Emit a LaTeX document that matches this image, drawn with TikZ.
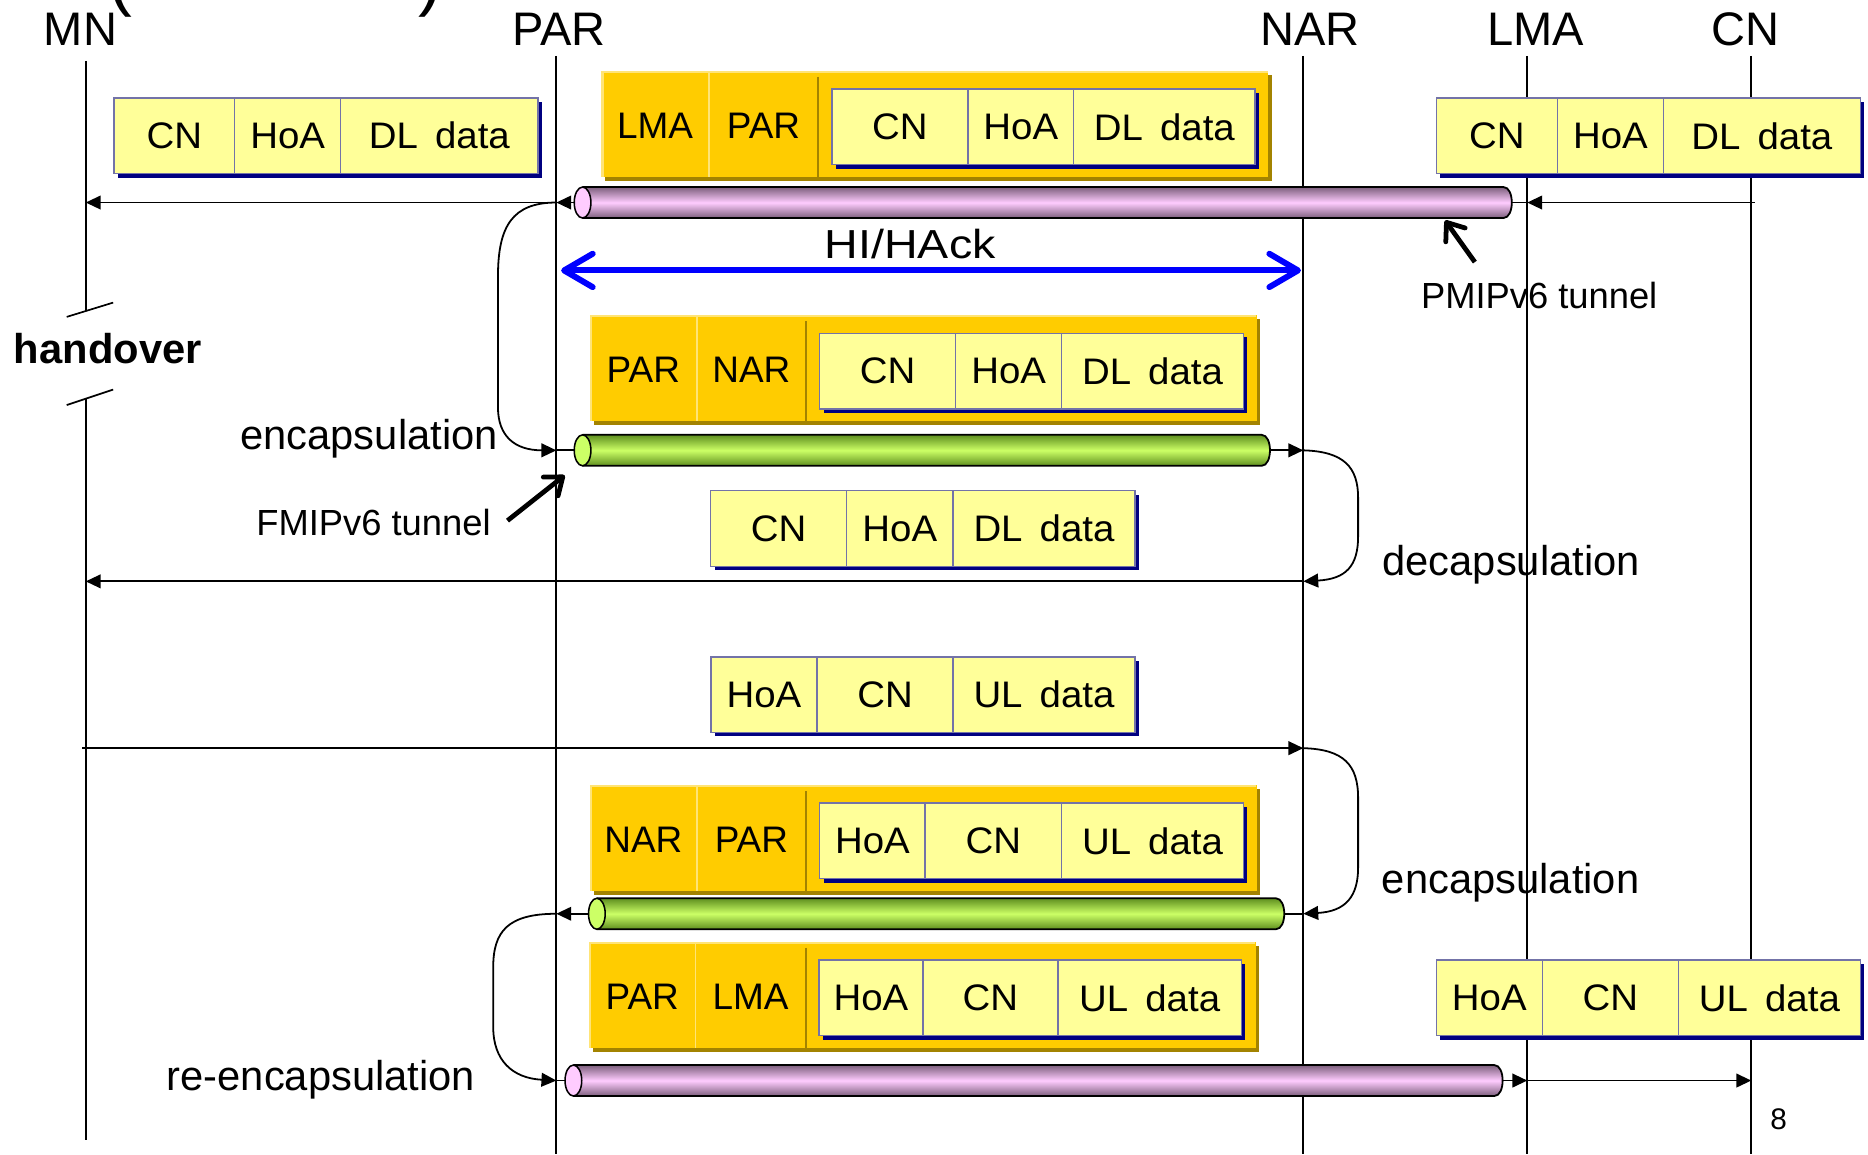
\documentclass[tikz,border=0pt]{standalone}
\usepackage{fontspec}
\setmainfont{Liberation Sans}
\newfontfamily\pktfam[WordSpace=1.6,FakeStretch=1.04]{Liberation Sans}
\usetikzlibrary{arrows.meta}
\definecolor{cellfill}{HTML}{FFFF99}
\definecolor{cellline}{HTML}{7373A8}
\definecolor{cellshadow}{HTML}{000080}
\definecolor{orfill}{HTML}{FFCC00}
\definecolor{orlight}{HTML}{FFE477}
\definecolor{ordark}{HTML}{A38300}
\definecolor{pinkmid}{HTML}{FFCCFF}
\definecolor{pinkdark}{HTML}{7D5F7D}
\definecolor{greenmid}{HTML}{CCFF66}
\definecolor{greendark}{HTML}{5F8F1F}
\newcommand\pktfont{\pktfam\fontsize{31}{37}\selectfont}
\tikzset{
  cell/.style={rectangle, draw=cellline, fill=cellfill, line width=1.2pt, minimum height=63.5pt, inner sep=0pt, font=\pktfont},
  obody/.style={rectangle, fill=orfill, minimum width=559.5pt, minimum height=89pt, inner sep=0pt},
  olab/.style={inner sep=0pt, font=\fontsize{31}{37}\selectfont},
  life/.style={line width=1.6pt},
  msg/.style={line width=1.5pt, -{Triangle[length=12.5pt,width=11.5pt]}},
  stub/.style={line width=1.5pt},
  hdr/.style={anchor=base, inner sep=0pt, font=\fontsize{39.5}{44}\selectfont},
  lbl/.style={anchor=base, inner sep=0pt, font=\fontsize{35}{40}\selectfont},
  smalllbl/.style={anchor=base, inner sep=0pt, font=\fontsize{30.5}{36}\selectfont},
  annot/.style={line width=4pt, -{Straight Barb[length=13pt,width=20pt,round]}},
  hiarrow/.style={draw=blue, line width=5pt, {Straight Barb[length=24pt,width=28pt,round]}-{Straight Barb[length=24pt,width=28pt,round]}},
}
\newcommand\pkt[9]{%
  \fill[cellshadow] (#2+4,#3+4) rectangle (#2+#4+#5+#6+4,#3+67.5);
  \node[cell,minimum width=#4pt,anchor=north west] (#1-1) at (#2,#3) {#7};
  \node[cell,minimum width=#5pt,anchor=north west] (#1-2) at (#2+#4,#3) {#8};
  \node[cell,minimum width=#6pt,anchor=north west] (#1-3) at (#2+#4+#5,#3) {#9};
}
\newcommand\obox[7]{%
  \fill[ordark] (#2+3.5,#3+3.5) rectangle (#2+563,#3+92.5);
  \node[obody,anchor=north west] (#1) at (#2,#3) {};
  \draw[orlight,line width=2pt] (#2+1,#3+89) -- (#2+1,#3+1) -- (#2+559.5,#3+1);
  \draw[orlight,line width=1.2pt] (#4,#3+2) -- (#4,#3+89);
  \draw[ordark,line width=1.6pt] (#5,#3+5) -- (#5,#3+89);
  \node[olab] (#1-a) at ({(#2+#4)/2},#3+46) {#6};
  \node[olab] (#1-b) at ({(#4+#5)/2},#3+46) {#7};
}
\newcommand\tunnel[6]{%
  \coordinate (#1-w) at (#2,#4);
  \coordinate (#1-e) at (#3,#4);
  \shade[top color=#6, bottom color=#6, middle color=#5] (#2+7,#4-13) -- (#3-7,#4-13) .. controls (#3+2.33,#4-13) and (#3+2.33,#4+13) .. (#3-7,#4+13) -- (#2+7,#4+13) -- cycle;
  \draw[line width=1.5pt] (#2+7,#4-13) -- (#3-7,#4-13) .. controls (#3+2.33,#4-13) and (#3+2.33,#4+13) .. (#3-7,#4+13) -- (#2+7,#4+13);
  \filldraw[fill=#5, line width=1.3pt] (#2+7,#4) ellipse [x radius=7pt, y radius=13pt];
}
\begin{document}
\begin{tikzpicture}[x=1pt,y=-1pt]
\fill[white] (0,0) rectangle (1568,969);
\useasboundingbox (0,0) rectangle (1568,969);
% cut-off title fragments
\begin{scope}
\clip (0,0) rectangle (1568,969);
\node[anchor=base, inner sep=0pt, font=\fontsize{60}{60}\selectfont] (ttlL) at (101,2) {(};
\node[anchor=base, inner sep=0pt, font=\fontsize{60}{60}\selectfont] (ttlR) at (361,2) {)};
\end{scope}
% headers
\node[hdr] (hMN) at (67.5,37.8) {MN};
\node[hdr] (hPAR) at (469,37.8) {PAR};
\node[hdr] (hNAR) at (1099.7,37.8) {NAR};
\node[hdr] (hLMA) at (1289,37.8) {LMA};
\node[hdr] (hCN) at (1465,37.8) {CN};
% lifeline coordinates
\coordinate (MN-top) at (72,51);
\coordinate (MN-b1) at (72,261);
\coordinate (MN-b2) at (72,334);
\coordinate (MN-bot) at (72,957);
\coordinate (PAR-top) at (467,47);
\coordinate (PAR-bot) at (467,969);
\coordinate (NAR-top) at (1094,47);
\coordinate (NAR-bot) at (1094,969);
\coordinate (LMA-top) at (1282,47);
\coordinate (LMA-bot) at (1282,969);
\coordinate (CN-top) at (1470,47);
\coordinate (CN-bot) at (1470,969);
\draw[life] (MN-top) -- (MN-b1);
\draw[life] (MN-b2) -- (MN-bot);
\draw[life] (PAR-top) -- (PAR-bot);
\draw[life] (NAR-top) -- (NAR-bot);
\draw[life] (LMA-top) -- (LMA-bot);
\draw[life] (CN-top) -- (CN-bot);
% handover break
\draw[line width=1.4pt] (56,266) -- (95,254);
\draw[line width=1.4pt] (56,340) -- (95,327);
\node[anchor=base, inner sep=0pt, font=\bfseries\fontsize{35}{40}\selectfont] (handover) at (90.5,305) {handover};
% event points
\coordinate (MN-170) at (72,170);
\coordinate (PAR-170) at (467,170);
\coordinate (LMA-170) at (1282,170);
\coordinate (CN-170) at (1473,170);
\coordinate (PAR-378) at (467,378);
\coordinate (NAR-378) at (1094,378);
\coordinate (NAR-488) at (1094,488);
\coordinate (MN-488) at (72,488);
\coordinate (MN-628) at (69,628);
\coordinate (NAR-628) at (1094,628);
\coordinate (NAR-767) at (1094,767);
\coordinate (PAR-767) at (467,767);
\coordinate (PAR-907) at (467,907);
\coordinate (LMA-907) at (1282,907);
\coordinate (CN-907) at (1470,907);
\coordinate (hi-l) at (471,227);
\coordinate (hi-r) at (1092,227);
% packets and headers
\obox{o1}{504.7}{59.3}{595}{686.7}{LMA}{PAR}
\obox{o2}{495}{264.5}{585}{676.4}{PAR}{NAR}
\obox{o3}{495}{659}{585}{676.4}{NAR}{PAR}
\obox{o4}{494.2}{790.5}{584}{676.2}{PAR}{LMA}
\pkt{p1}{95}{81.5}{101.4}{89}{165.6}{CN}{HoA}{DL data}
\pkt{p2}{1205}{81.7}{101.7}{89}{165.3}{CN}{HoA}{DL data}
\pkt{p3}{697.6}{74.1}{114.3}{88.7}{152.4}{CN}{HoA}{DL data}
\pkt{p4}{687.4}{279.2}{114.2}{89}{152.4}{CN}{HoA}{DL data}
\pkt{p5}{596}{411.3}{114}{89.4}{152.6}{CN}{HoA}{DL data}
\pkt{p6}{596.2}{550.7}{89}{114.2}{152.6}{HoA}{CN}{UL data}
\pkt{p7}{687.4}{673.5}{88.6}{114.6}{152.4}{HoA}{CN}{UL data}
\pkt{p8}{687}{805.3}{87}{113.6}{153.7}{HoA}{CN}{UL data}
\pkt{p9}{1205}{805.3}{89.1}{114.2}{152.7}{HoA}{CN}{UL data}
% tunnels
\tunnel{t1}{482}{1269}{170}{pinkmid}{pinkdark}
\tunnel{t2}{482}{1066}{378}{greenmid}{greendark}
\tunnel{t3}{494}{1078}{767}{greenmid}{greendark}
\tunnel{t4}{474.3}{1261.3}{907}{pinkmid}{pinkdark}
% downlink
\draw[msg] (t1-w) -- (PAR-170);
\draw[msg] (PAR-170) -- (MN-170);
\draw[stub] (LMA-170) -- (t1-e);
\draw[msg] (CN-170) -- (LMA-170);
\draw[msg] (PAR-170) .. controls (430,170) and (418,190) .. (418,232) -- (418,342) .. controls (418,366) and (432,378) .. (PAR-378);
\draw[stub] (PAR-378) -- (t2-w);
\draw[msg] (t2-e) -- (NAR-378);
\draw[msg] (NAR-378) .. controls (1128,379) and (1140,392) .. (1140,418) -- (1140,450) .. controls (1140,475) and (1130,486) .. (NAR-488);
\draw[msg] (NAR-488) -- (MN-488);
% uplink
\draw[msg] (MN-628) -- (NAR-628);
\draw[msg] (NAR-628) .. controls (1128,629) and (1140,642) .. (1140,670) -- (1140,728) .. controls (1140,752) and (1130,765) .. (NAR-767);
\draw[stub] (NAR-767) -- (t3-e);
\draw[msg] (t3-w) -- (PAR-767);
\draw[msg] (PAR-767) .. controls (426,767) and (414,782) .. (414,812) -- (414,862) .. controls (414,890) and (430,905) .. (PAR-907);
\draw[stub] (PAR-907) -- (t4-w);
\draw[msg] (t4-e) -- (LMA-907);
\draw[msg] (LMA-907) -- (CN-907);
% HI/HAck
\draw[hiarrow] (hi-l) -- (hi-r);
\node[anchor=base, inner sep=0pt, font=\fontsize{34}{40}\selectfont] (hihack) at (764,217) {\scalebox{1.15}[1]{HI/HAck}};
% labels
\node[lbl] (encL) at (309.8,377.2) {encapsulation};
\node[smalllbl] (fmlbl) at (313.5,449.7) {FMIPv6 tunnel};
\node[smalllbl] (pmlbl) at (1292,258.7) {PMIPv6 tunnel};
\node[lbl] (decap) at (1268.5,483) {decapsulation};
\node[lbl] (encR) at (1268,750) {encapsulation};
\node[lbl] (reenc) at (269.3,915) {re-encapsulation};
\coordinate (fm-tail) at (426,437);
\coordinate (fm-tip) at (474,399);
\coordinate (pm-tail) at (1238,220);
\coordinate (pm-tip) at (1213,185);
\draw[annot] (fm-tail) -- (fm-tip);
\draw[annot] (pm-tail) -- (pm-tip);
\node[anchor=base, inner sep=0pt, font=\fontsize{25}{30}\selectfont] (pg) at (1493,948) {8};
\end{tikzpicture}
\end{document}
